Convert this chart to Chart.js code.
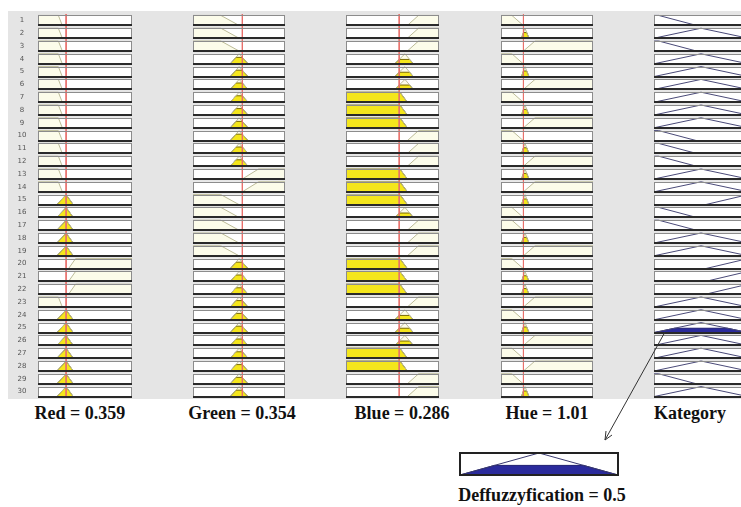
<!DOCTYPE html>
<html>
<head>
<meta charset="utf-8">
<script src="https://cdn.jsdelivr.net/npm/chart.js@4.4.0/dist/chart.umd.min.js"></script>
<style>
html, body { margin: 0; padding: 0; overflow: hidden; }
body { width: 741px; height: 507px; position: relative; background: #fff; font-family: "Liberation Serif", serif; }
#panel { position: absolute; left: 8px; top: 11px; width: 733px; height: 388px; background: #e5e5e5; }
canvas { position: absolute; }
.lbl { position: absolute; font-size: 18px; font-weight: bold; line-height: 20px; white-space: nowrap; transform: translateX(-50%); color: #111; }
</style>
</head>
<body>
<div id="panel"></div>
<canvas id="col-red" width="117" height="384" style="left:15px;top:14px"></canvas>
<canvas id="col-green" width="92" height="384" style="left:193px;top:14px"></canvas>
<canvas id="col-blue" width="93" height="384" style="left:346px;top:14px"></canvas>
<canvas id="col-hue" width="92" height="384" style="left:501px;top:14px"></canvas>
<canvas id="col-kategory" width="94" height="384" style="left:654px;top:14px"></canvas>
<canvas id="defuzz" width="162" height="26" style="left:458px;top:451px"></canvas>
<div class="lbl" id="lbl0" style="left:80px;top:403px"></div>
<div class="lbl" id="lbl1" style="left:242px;top:403px"></div>
<div class="lbl" id="lbl2" style="left:402px;top:403px"></div>
<div class="lbl" id="lbl3" style="left:547px;top:403px"></div>
<div class="lbl" id="lbl4" style="left:690px;top:403px"></div>
<div class="lbl" id="lbl5" style="left:542px;top:485px"></div>
<svg width="741" height="507" style="position:absolute;left:0;top:0">
  <line x1="665" y1="332" x2="605" y2="440" stroke="#333" stroke-width="1"/>
  <polyline points="612,435 605,440 606,431" fill="none" stroke="#333" stroke-width="1"/>
</svg>
<script>
// les regles (1 = low, 2 = mid, 3 = high)
var rowLabels = [1, 2, 3, 4, 5, 6, 7, 8, 9, 10, 11, 12, 13, 14, 15, 16, 17, 18, 19, 20, 21, 22, 23, 24, 25, 26, 27, 28, 29, 30];
var ruleRed = [1, 1, 1, 1, 1, 1, 1, 1, 1, 1, 1, 1, 1, 1, 2, 2, 2, 2, 2, 3, 3, 3, 1, 2, 2, 2, 2, 2, 2, 2];
var ruleGreen = [1, 1, 1, 2, 2, 2, 2, 2, 2, 2, 2, 2, 3, 3, 1, 1, 1, 1, 1, 2, 2, 2, 2, 2, 2, 2, 2, 2, 2, 2];
var ruleBlue = [3, 3, 3, 2, 2, 2, 1, 1, 1, 3, 3, 3, 1, 1, 1, 2, 3, 3, 3, 1, 1, 1, 3, 2, 2, 2, 1, 1, 3, 3];
var ruleHue = [1, 2, 3, 1, 2, 3, 1, 2, 3, 1, 2, 3, 2, 3, 2, 1, 1, 2, 3, 1, 2, 2, 3, 1, 2, 3, 1, 3, 1, 2];
var ruleKategory = [1, 2, 1, 2, 2, 2, 2, 2, 2, 1, 1, 1, 2, 2, 3, 1, 1, 2, 2, 3, 3, 3, 2, 2, 2, 2, 2, 2, 1, 2];

// les entrees
var inputNames = ['Red', 'Green', 'Blue', 'Hue'];
var inputValues = [0.359, 0.354, 0.286, 1.01];
var inputMax = [1.2, 0.66, 0.5, 4.14];

// fonctions d'appartenance [a, b, c, d] : low, mid, high
var redMF = [[0, 0, 0.26, 0.31], [0.24, 0.36, 0.36, 0.45], [0.39, 0.48, 1.2, 1.2]];
var greenMF = [[0, 0, 0.2, 0.33], [0.267, 0.331, 0.331, 0.395], [0.354, 0.47, 0.66, 0.66]];
var blueMF = [[0, 0, 0.29, 0.33], [0.262, 0.317, 0.317, 0.362], [0.33, 0.39, 0.5, 0.5]];
var hueMF = [[0, 0, 0.49, 1.0], [0.92, 1.08, 1.08, 1.26], [1.01, 1.53, 4.14, 4.14]];
var kategoryMF = [[0, 0, 0.05, 0.45], [0, 0.5, 0.5, 1], [0.55, 1, 1, 1]];

var outputName = 'Kategory';
var defuzzValue = 0.5;

function mu(p, x) {
    if (x < p[0] || x > p[3]) return 0;
    if (x < p[1]) return (x - p[0]) / (p[1] - p[0]);
    if (x <= p[2]) return 1;
    return (p[3] - x) / (p[3] - p[2]);
}

// forme de la fonction coupee au niveau h
function shape(p, h) {
    return [[p[0], 0], [p[0] + h * (p[1] - p[0]), h], [p[3] - h * (p[3] - p[2]), h], [p[3], 0]];
}

function rowPoints(pts, i) {
    return pts.map(function(q) { return { x: q[0], y: i + 0.89 - 0.78 * q[1] }; });
}

var inputMFs = [redMF, greenMF, blueMF, hueMF];
var inputRules = [ruleRed, ruleGreen, ruleBlue, ruleHue];

// force de chaque regle (min des entrees)
var firing = rowLabels.map(function(l, i) {
    var f = 1;
    for (var k = 0; k < 4; k++) f = Math.min(f, mu(inputMFs[k][inputRules[k][i] - 1], inputValues[k]));
    return f;
});

var boxPlugin = {
    id: 'boxes',
    beforeDatasetsDraw: function(chart) {
        var ctx = chart.ctx, x = chart.scales.x, y = chart.scales.y;
        var left = x.getPixelForValue(x.min), right = x.getPixelForValue(x.max);
        ctx.save();
        ctx.fillStyle = '#fff';
        rowLabels.forEach(function(l, i) {
            var top = y.getPixelForValue(i + 0.11), bot = y.getPixelForValue(i + 0.89);
            ctx.fillRect(left, top, right - left, bot - top);
        });
        ctx.restore();
    },
    afterDatasetsDraw: function(chart) {
        var ctx = chart.ctx, x = chart.scales.x, y = chart.scales.y;
        var left = x.getPixelForValue(x.min), right = x.getPixelForValue(x.max);
        ctx.save();
        rowLabels.forEach(function(l, i) {
            var top = Math.round(y.getPixelForValue(i + 0.11)), bot = Math.round(y.getPixelForValue(i + 0.89));
            ctx.strokeStyle = '#8c8c8c';
            ctx.lineWidth = 1;
            ctx.strokeRect(left + 0.5, top + 0.5, right - left - 1, bot - top - 1);
            ctx.strokeStyle = '#2a2a2a';
            ctx.lineWidth = 2;
            ctx.beginPath();
            ctx.moveTo(left, bot);
            ctx.lineTo(right, bot);
            ctx.stroke();
        });
        ctx.restore();
    }
};

// numeros des regles a gauche de la premiere colonne
var rowNumberPlugin = {
    id: 'rownumbers',
    afterDraw: function(chart) {
        var ctx = chart.ctx, y = chart.scales.y;
        ctx.save();
        ctx.fillStyle = '#555';
        ctx.font = '7px "DejaVu Sans"';
        ctx.textAlign = 'center';
        ctx.textBaseline = 'middle';
        rowLabels.forEach(function(l, i) {
            ctx.fillText(String(l), 7, y.getPixelForValue(i + 0.5));
        });
        ctx.restore();
    }
};

function baseOptions(xMax) {
    return {
        responsive: false,
        animation: false,
        events: [],
        layout: { padding: 0 },
        plugins: { legend: { display: false }, tooltip: { enabled: false } },
        elements: { point: { radius: 0 }, line: { tension: 0 } },
        scales: {
            x: { type: 'linear', min: 0, max: xMax, display: false },
            y: { type: 'linear', min: 0, max: 30, reverse: true, display: false }
        }
    };
}

function inputChart(id, k) {
    var mfs = inputMFs[k], rules = inputRules[k], v = inputValues[k];
    var datasets = [];
    rowLabels.forEach(function(l, i) {
        var p = mfs[rules[i] - 1];
        var base = i + 0.89;
        datasets.push({ order: 3, data: rowPoints(shape(p, 1), i), showLine: true, fill: { value: base }, backgroundColor: '#fcfcea', borderWidth: 0 });
        datasets.push({ order: 2, data: rowPoints(shape(p, mu(p, v)), i), showLine: true, fill: { value: base }, backgroundColor: '#f4e61c', borderColor: '#7a6a00', borderWidth: 1 });
        datasets.push({ order: 1, data: rowPoints(shape(p, 1), i), showLine: true, fill: false, borderColor: '#bdbc98', borderWidth: 1 });
    });
    // la valeur d'entree
    datasets.push({ order: 0, data: [{ x: v, y: 0 }, { x: v, y: 30 }], showLine: true, fill: false, borderColor: '#e8706c', borderWidth: 1 });

    var options = baseOptions(inputMax[k]);
    var plugins = [boxPlugin];
    if (k == 0) {
        options.layout.padding = { left: 23 };
        plugins.push(rowNumberPlugin);
    }
    return new Chart(document.getElementById(id).getContext('2d'), {
        type: 'scatter', data: { datasets: datasets }, options: options, plugins: plugins
    });
}

function outputChart(id) {
    var datasets = [];
    rowLabels.forEach(function(l, i) {
        var p = kategoryMF[ruleKategory[i] - 1];
        if (firing[i] > 0) {
            datasets.push({ order: 2, data: rowPoints(shape(p, firing[i]), i), showLine: true, fill: { value: i + 0.89 }, backgroundColor: '#2b2b9c', borderColor: '#1c1c70', borderWidth: 1 });
        }
        datasets.push({ order: 1, data: rowPoints(shape(p, 1), i), showLine: true, fill: false, borderColor: '#4a4a78', borderWidth: 1 });
    });
    return new Chart(document.getElementById(id).getContext('2d'), {
        type: 'scatter', data: { datasets: datasets }, options: baseOptions(1), plugins: [boxPlugin]
    });
}

// sortie agregee
function defuzzChart(id) {
    var level = Math.max.apply(null, firing);
    var p = kategoryMF[1];
    var toXY = function(pts) { return pts.map(function(q) { return { x: q[0], y: q[1] }; }); };
    var options = baseOptions(1);
    options.layout.padding = 2;
    options.scales.y = { type: 'linear', min: 0, max: 1, display: false };
    var frame = {
        id: 'frame',
        beforeDatasetsDraw: function(chart) {
            var a = chart.chartArea, ctx = chart.ctx;
            ctx.save();
            ctx.fillStyle = '#fff';
            ctx.fillRect(a.left, a.top, a.width, a.height);
            ctx.restore();
        },
        afterDatasetsDraw: function(chart) {
            var a = chart.chartArea, ctx = chart.ctx;
            ctx.save();
            ctx.strokeStyle = '#222';
            ctx.lineWidth = 2;
            ctx.strokeRect(a.left, a.top, a.width, a.height);
            ctx.restore();
        }
    };
    return new Chart(document.getElementById(id).getContext('2d'), {
        type: 'scatter',
        data: { datasets: [
            { order: 2, data: toXY(shape(p, level)), showLine: true, fill: { value: 0 }, backgroundColor: '#2b2b9c', borderColor: '#1c1c70', borderWidth: 1 },
            { order: 1, data: toXY(shape(p, 1)), showLine: true, fill: false, borderColor: '#3a3a70', borderWidth: 1 }
        ] },
        options: options,
        plugins: [frame]
    });
}

inputChart('col-red', 0);
inputChart('col-green', 1);
inputChart('col-blue', 2);
inputChart('col-hue', 3);
outputChart('col-kategory');
defuzzChart('defuzz');

for (var k = 0; k < 4; k++) {
    document.getElementById('lbl' + k).textContent = inputNames[k] + ' = ' + inputValues[k];
}
document.getElementById('lbl4').textContent = outputName;
document.getElementById('lbl5').textContent = 'Deffuzzyfication = ' + defuzzValue;
</script>
</body>
</html>
